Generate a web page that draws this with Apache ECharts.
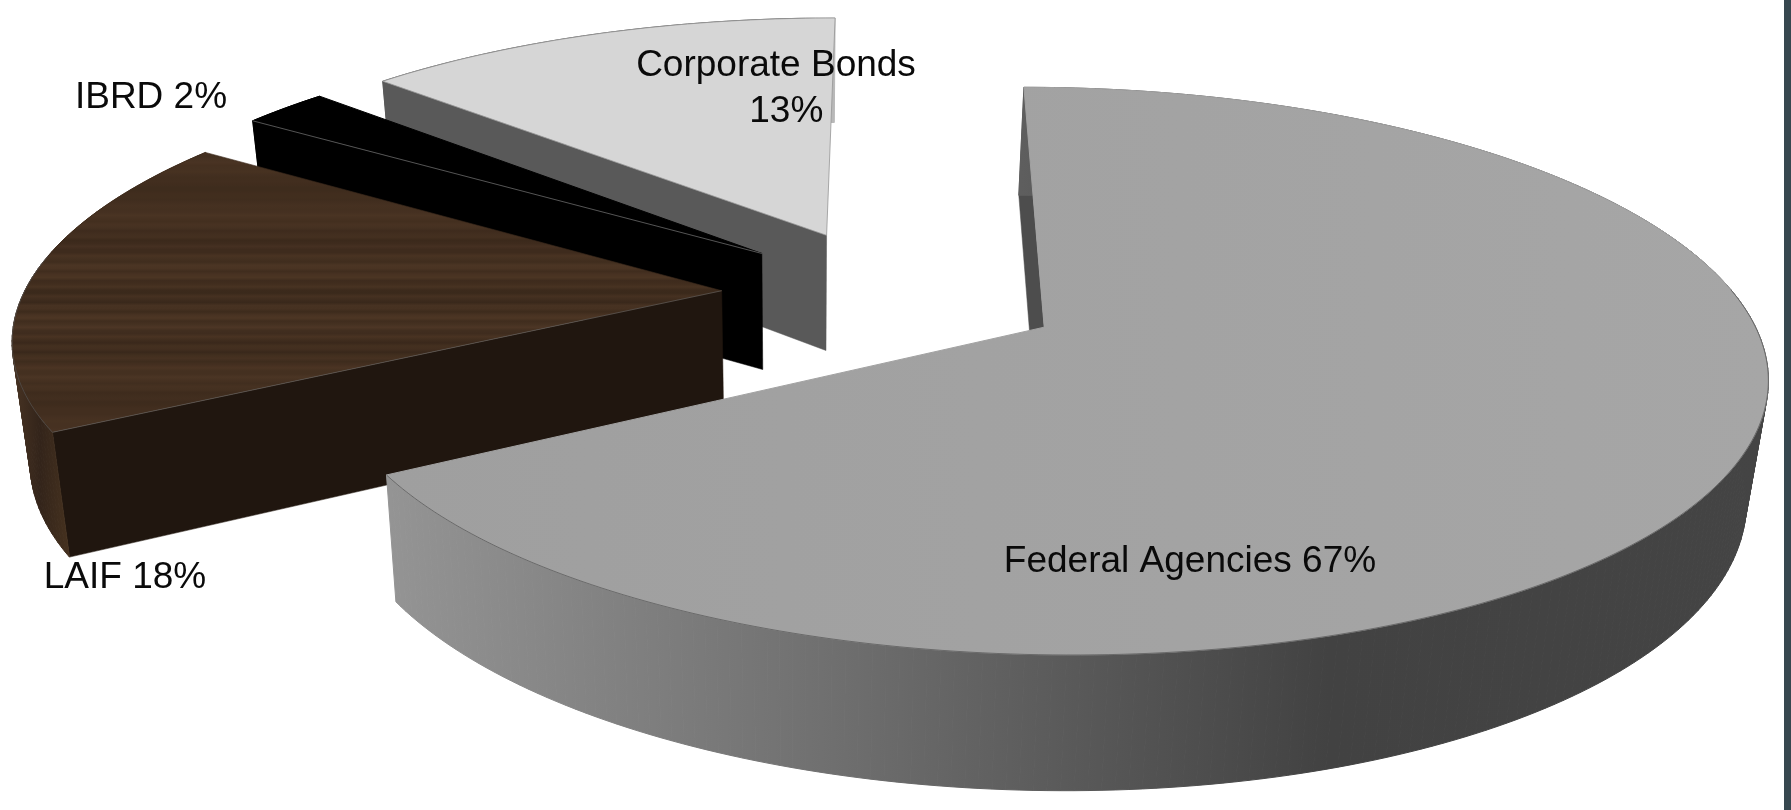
<!DOCTYPE html>
<html>
<head>
<meta charset="utf-8">
<style>html,body{margin:0;padding:0;background:#fff}#c{width:1791px;height:810px}</style>
<script src="https://cdn.jsdelivr.net/npm/echarts@6/dist/echarts.min.js"></script>
</head>
<body>
<div id="c"></div>
<script>
const categories = ['Federal Agencies', 'LAIF', 'IBRD', 'Corporate Bonds'];
const shares = [66.8, 17.75, 2.35, 13.1];
const labelBreaks = [' ', ' ', ' ', '\n  '];
const labelCentres = [[1190, 562], [125, 578], [151, 98], [776, 89]];

// Projection of the tilted disc: centre, half axes, perspective, explosion, depth.
const view = {cx: 893, cy: 293.5, B: 698, A: 266.7, k: 0.152, explode: 0.246,
              depth: 118, depthGrow: 0.049, vanishX: 800, converge: 0.0228};

const wood = [];
(function () {
  const n = 90;
  for (let i = 0; i <= n; i++) {
    const v = 0.5 + 0.17 * Math.sin(i * 1.9) + 0.13 * Math.sin(i * 4.3 + 1) + 0.15 * Math.sin(i * 0.37);
    const c = (a, b) => Math.round(a + (b - a) * v);
    wood.push({offset: i / n, color: `rgb(${c(54, 80)},${c(38, 56)},${c(25, 38)})`});
  }
})();

const tops = [
  {type: 'linear', x: 390, y: 0, x2: 1770, y2: 0, global: true,
   colorStops: [{offset: 0, color: '#9f9f9f'}, {offset: 1, color: '#a6a6a6'}]},
  {type: 'linear', x: 0, y: 150, x2: 0, y2: 430, global: true, colorStops: wood},
  '#000000', '#d6d6d6'
];
const cutWalls = ['#4d4d4d', '#20160f', '#000000', '#595959'];
const outerWalls = [
  {type: 'linear', x: 390, y: 0, x2: 1770, y2: 0, global: true,
   colorStops: [{offset: 0, color: '#949494'}, {offset: 0.33, color: '#6e6e6e'},
                {offset: 0.68, color: '#424242'}, {offset: 1, color: '#444444'}]},
  {type: 'linear', x: 10, y: 0, x2: 70, y2: 0, global: true,
   colorStops: [{offset: 0, color: '#4a3524'}, {offset: 0.5, color: '#33241a'}, {offset: 1, color: '#46321f'}]},
  '#000000',
  {type: 'linear', x: 700, y: 0, x2: 840, y2: 0, global: true,
   colorStops: [{offset: 0, color: '#595959'}, {offset: 0.7, color: '#595959'}, {offset: 0.85, color: '#b8b8b8'}, {offset: 1, color: '#b8b8b8'}]}
];
const rimLines = ['rgba(60,60,60,0.55)', 'rgba(90,90,90,0.6)', 'rgba(0,0,0,0)', 'rgba(0,0,0,0)'];
const cutLines = ['rgba(0,0,0,0)', 'rgba(110,110,110,0.55)', 'rgba(120,120,120,0.7)', 'rgba(0,0,0,0)'];
const topEdges = ['#a2a2a2', 'rgba(60,42,28,0.6)', '#000000', 'rgba(150,150,150,0.8)'];

function project(X, Y) {
  const w = 1 + view.k * Y;
  return [view.cx + view.B * X / w, view.cy - view.A * Y / w];
}
function drop(p) {
  return [p[0] + (view.vanishX - p[0]) * view.converge,
          p[1] + view.depth + view.depthGrow * (p[1] - view.cy)];
}

function renderItem(params, api) {
  const i = params.dataIndex;
  const share = api.value(1);
  let before = 0;
  for (let j = 0; j < i; j++) before += api.value(1, j);
  const total = shares.reduce((a, b) => a + b, 0);
  const a0 = before / total * Math.PI * 2;
  const a1 = (before + share) / total * Math.PI * 2;
  const mid = (a0 + a1) / 2;
  const ox = Math.sin(mid) * view.explode, oy = Math.cos(mid) * view.explode;
  const apex = project(ox, oy);
  const arc = [], near = [];
  const steps = Math.max(8, Math.round((a1 - a0) * 60));
  for (let s = 0; s <= steps; s++) {
    const a = a0 + (a1 - a0) * s / steps;
    const p = project(ox + Math.sin(a), oy + Math.cos(a));
    arc.push(p);
    if (Math.cos(a) < 0.15) near.push(p);
  }
  const base = (categories.length - i) * 10;
  const poly = (points, fill, z, stroke, lw) => ({
    type: 'polygon', z2: base + z, shape: {points},
    style: {fill, stroke: stroke || fill, lineWidth: lw || 0.5}
  });
  const line = (points, color) => ({
    type: 'polyline', z2: base + 3, shape: {points},
    style: {fill: 'none', stroke: color, lineWidth: 1}
  });
  const wallQuads = [];
  for (let s = 0; s < steps; s++) {
    wallQuads.push(poly([arc[s], arc[s + 1], drop(arc[s + 1]), drop(arc[s])], outerWalls[i], 1, outerWalls[i], 1));
  }
  const cut = [arc[0], apex, drop(apex), drop(arc[0])];
  return {
    type: 'group',
    children: [
      poly(cut, cutWalls[i], 0),
      ...wallQuads,
      poly([apex].concat(arc), tops[i], 2, topEdges[i], 1),
      line(near, rimLines[i]),
      line([apex, arc[0]], cutLines[i]),
      {
        type: 'text', z2: 100,
        style: {
          text: api.value(0) + labelBreaks[i] + Math.round(share) + '%',
          x: labelCentres[i][0], y: labelCentres[i][1],
          align: 'center', verticalAlign: 'middle', lineHeight: 46,
          font: '37px "Liberation Sans", Arial, sans-serif', fill: '#0a0a0a'
        }
      }
    ]
  };
}

const chart = echarts.init(document.getElementById('c'));
chart.setOption({
  animation: false,
  backgroundColor: '#ffffff',
  graphic: [{type: 'rect', shape: {x: 1784, y: 0, width: 7, height: 810}, style: {fill: '#37474f'}}],
  series: [{
    type: 'custom',
    coordinateSystem: 'none',
    renderItem,
    data: categories.map((c, i) => [c, shares[i]])
  }]
});
</script>
</body>
</html>
